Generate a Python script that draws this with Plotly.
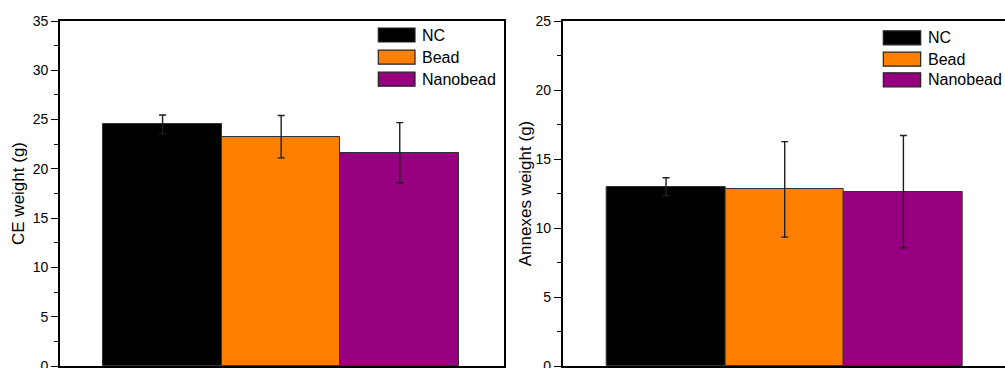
import plotly.graph_objects as go

groups = ["NC", "Bead", "Nanobead"]
colors = ["#000000", "#FF8000", "#960080"]
ce_weight = [24.52, 23.26, 21.64]
ce_err = [0.95, 2.15, 3.05]
annex_weight = [12.99, 12.80, 12.63]
annex_err = [0.65, 3.46, 4.07]
y_titles = ["CE weight (g)", "Annexes weight (g)"]

W, H = 1005, 368
FONT = "Liberation Sans, Arial, sans-serif"

fig = go.Figure()
xpos = list(range(len(groups)))
for i, (vals, errs) in enumerate([(ce_weight, ce_err), (annex_weight, annex_err)]):
    fig.add_trace(go.Bar(
        x=xpos, y=vals, width=1.0,
        marker=dict(color=colors, line=dict(color="#333333", width=1)),
        error_y=dict(type="data", array=errs, visible=True, color="#1e1e1e", thickness=1.4, width=3.5),
        xaxis="x" if i == 0 else "x2", yaxis="y" if i == 0 else "y2",
        showlegend=False, cliponaxis=False,
    ))

axis_common = dict(showline=True, linecolor="black", linewidth=1.6, showgrid=False, zeroline=False, automargin=False)
yaxis_common = dict(axis_common, ticks="outside", ticklen=7, tickwidth=1.3, tickcolor="black", dtick=5,
                    tickfont=dict(family=FONT, size=14, color="black"), ticklabeloverflow="allow",
                    minor=dict(dtick=2.5, ticks="outside", ticklen=4, tickwidth=1.3, tickcolor="black"),
                    title_font=dict(family=FONT, size=17, color="black"))

fig.update_layout(
    width=W, height=H,
    margin=dict(l=0, r=0, t=21, b=2),
    paper_bgcolor="white", plot_bgcolor="white",
    bargap=0,
    xaxis=dict(axis_common, domain=[60 / W, 504 / W], range=[-0.865, 2.879], showticklabels=False, ticks="", mirror=True),
    xaxis2=dict(axis_common, domain=[562.7 / W, 1.0], range=[-0.871, 2.856], showticklabels=False, ticks="", mirror=True),
    yaxis=dict(yaxis_common, range=[0, 35], anchor="x", mirror=True, title=dict(text=y_titles[0], standoff=4)),
    yaxis2=dict(yaxis_common, range=[0, 25], anchor="x2", mirror=False, title=dict(text=y_titles[1], standoff=0)),
)

# legend patches and labels (drawn per panel)
def py(p):
    return 1 - (p - 21) / 345.0

legend_specs = [
    (378.3, 415.0, [35.0, 57.2, 79.2], 420.0),
    (883.3, 920.7, [37.8, 59.2, 79.8], 925.7),
]
for x0, x1, ys, xt in legend_specs:
    for name, col, yc in zip(groups, colors, ys):
        fig.add_shape(type="rect", xref="paper", yref="paper",
                      x0=x0 / W, x1=x1 / W, y0=py(yc + 7), y1=py(yc - 7),
                      fillcolor=col, line=dict(color="#222222", width=1.2))
        fig.add_annotation(xref="paper", yref="paper", x=xt / W, y=py(yc), text=name,
                           showarrow=False, xanchor="left", yanchor="middle",
                           font=dict(family=FONT, size=16, color="black"))

fig.write_html("out.html", config={"displayModeBar": False},
               post_script="document.body.style.margin='0px';document.body.style.overflow='hidden';")
